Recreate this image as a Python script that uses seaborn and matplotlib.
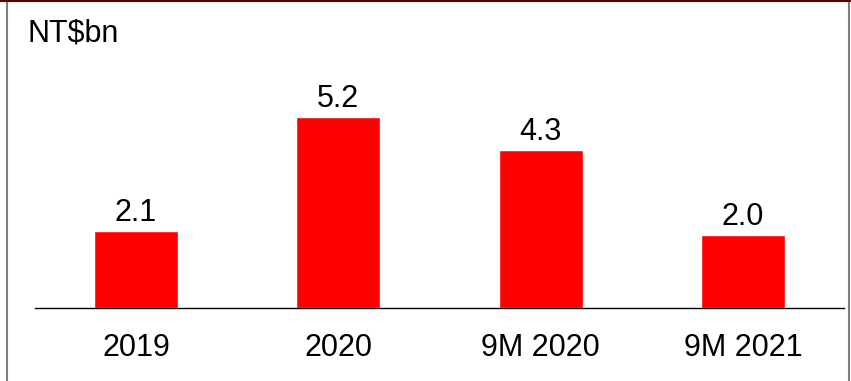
import matplotlib
matplotlib.use("Agg")
import matplotlib.pyplot as plt
from matplotlib.lines import Line2D
import seaborn as sns
import pandas as pd

categories = ["2019", "2020", "9M 2020", "9M 2021"]
values = [2.1, 5.2, 4.3, 2.0]
unit_label = "NT$bn"

sns.set_theme(style="white")
plt.rcParams["font.family"] = ["Liberation Sans", "DejaVu Sans"]

df = pd.DataFrame({"period": categories, "value": values})

W, H = 851, 381
fig = plt.figure(figsize=(W / 100, H / 100), dpi=100)
ax = fig.add_axes([35 / W, (H - 308) / H, 809 / W, 308 / H])

sns.barplot(data=df, x="period", y="value", color="#ff0000", width=0.415,
            saturation=1, ax=ax)

ax.set_xlim(-0.5, 3.5)
ax.set_ylim(0, 308 / 36.7)
ax.set_xlabel("")
ax.set_ylabel("")
ax.set_yticks([])
for s in ["top", "right", "left"]:
    ax.spines[s].set_visible(False)
ax.spines["bottom"].set_color("#000000")
ax.spines["bottom"].set_linewidth(1.0)
ax.tick_params(axis="x", length=0, pad=18, labelsize=22, colors="#000000")

for i, v in enumerate(values):
    ax.annotate(f"{v:.1f}", (i, v), xytext=(0, 2), textcoords="offset points",
                ha="center", va="bottom", fontsize=22, color="#000000")

fig.text(28 / W, 1 - 41 / H, unit_label, fontsize=22, color="#000000",
         ha="left", va="baseline")

# slide frame edges
fig.add_artist(Line2D([7 / W, 7 / W], [0, 1], transform=fig.transFigure,
                      color="#7f7f7f", lw=1.5))
fig.add_artist(Line2D([849 / W, 849 / W], [0, 1], transform=fig.transFigure,
                      color="#7f7f7f", lw=1.5))
fig.add_artist(Line2D([0, 1], [1 - 0.8 / H, 1 - 0.8 / H], transform=fig.transFigure,
                      color="#5a0000", lw=1.5))

fig.savefig("out.png", dpi=100)
